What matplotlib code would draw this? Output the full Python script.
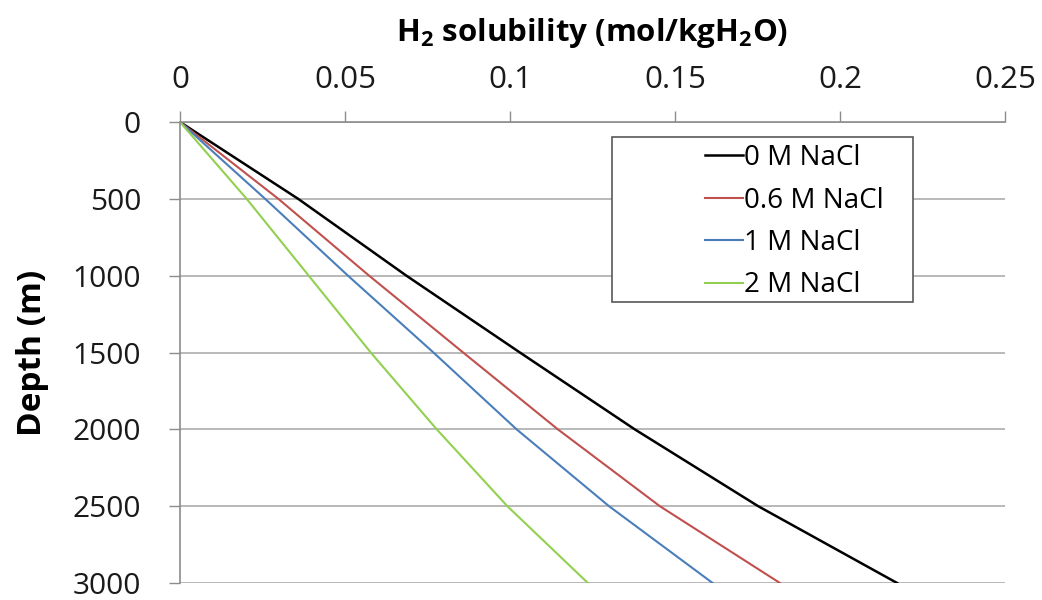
import matplotlib
matplotlib.use("Agg")
import matplotlib.pyplot as plt
from matplotlib.patches import Rectangle

# depth (m) and H2 solubility (mol/kgH2O)
depth = [0, 500, 1000, 1500, 2000, 2500, 3000]
sol_0m = [0, 0.0358, 0.0686, 0.1030, 0.1378, 0.1752, 0.2173]
sol_06m = [0, 0.0298, 0.0573, 0.0858, 0.1145, 0.1454, 0.1818]
sol_1m = [0, 0.0258, 0.0509, 0.0768, 0.1020, 0.1300, 0.1614]
sol_2m = [0, 0.0202, 0.0390, 0.0578, 0.0778, 0.0992, 0.1236]

labels = ["0 M NaCl", "0.6 M NaCl", "1 M NaCl", "2 M NaCl"]
x_ticks = [0, 0.05, 0.1, 0.15, 0.2, 0.25]
x_ticklabels = ["0", "0.05", "0.1", "0.15", "0.2", "0.25"]
y_ticks = [0, 500, 1000, 1500, 2000, 2500, 3000]

plt.rcParams['font.family'] = ['Open Sans', 'DejaVu Sans']
plt.rcParams['mathtext.fontset'] = 'custom'
plt.rcParams['mathtext.rm'] = 'Open Sans:bold'
plt.rcParams['mathtext.default'] = 'rm'

fig = plt.figure(figsize=(10.42, 6), dpi=100)
ax = fig.add_axes([180 / 1042, 1 - 583 / 600, 825 / 1042, 461 / 600])

ax.plot(sol_0m, depth, color='black', lw=1.8, label=labels[0], zorder=2)
ax.plot(sol_06m, depth, color='#c0504d', lw=1.5, label=labels[1], zorder=2)
ax.plot(sol_1m, depth, color='#4a7ebb', lw=1.5, label=labels[2], zorder=2)
ax.plot(sol_2m, depth, color='#92d050', lw=1.5, label=labels[3], zorder=2)

ax.set_xlim(0, 0.25)
ax.set_ylim(3000, 0)
ax.set_xticks(x_ticks)
ax.set_xticklabels(x_ticklabels)
ax.set_yticks(y_ticks)

ax.xaxis.tick_top()
ax.xaxis.set_label_position('top')
ax.tick_params(axis='both', direction='out', length=8, width=1, color='#8c8c8c',
               labelcolor='#1a1a1a')
ax.tick_params(axis='x', pad=11.5, labelsize=22.5)
ax.tick_params(axis='y', pad=20, labelsize=21.5)

ax.grid(axis='y', color='#b3b3b3', lw=1.3, zorder=0)
ax.set_axisbelow(True)
for side in ['bottom', 'right']:
    ax.spines[side].set_visible(False)
for side in ['top', 'left']:
    ax.spines[side].set_color('#8c8c8c')
    ax.spines[side].set_linewidth(1.2)

ax.set_xlabel(r'H$_2$ solubility (mol/kgH$_2$O)', fontsize=22.5, fontweight='bold', labelpad=17)
ax.set_ylabel('Depth (m)', fontsize=24, fontweight='bold', labelpad=17)

# legend frame is wider than its content, as in the Excel original
box = Rectangle((0.5236, 0.610), 0.3649, 0.3577, transform=ax.transAxes,
                facecolor='white', edgecolor='#595959', lw=1.2, zorder=3)
ax.add_patch(box)
leg = ax.legend(loc='upper left', bbox_to_anchor=(0.636, 0.952), frameon=False,
                fontsize=20, borderpad=0, borderaxespad=0, handlelength=1.37,
                handletextpad=0.05, labelspacing=0.52)
leg.set_zorder(4)

fig.savefig('out.png', dpi=100)
